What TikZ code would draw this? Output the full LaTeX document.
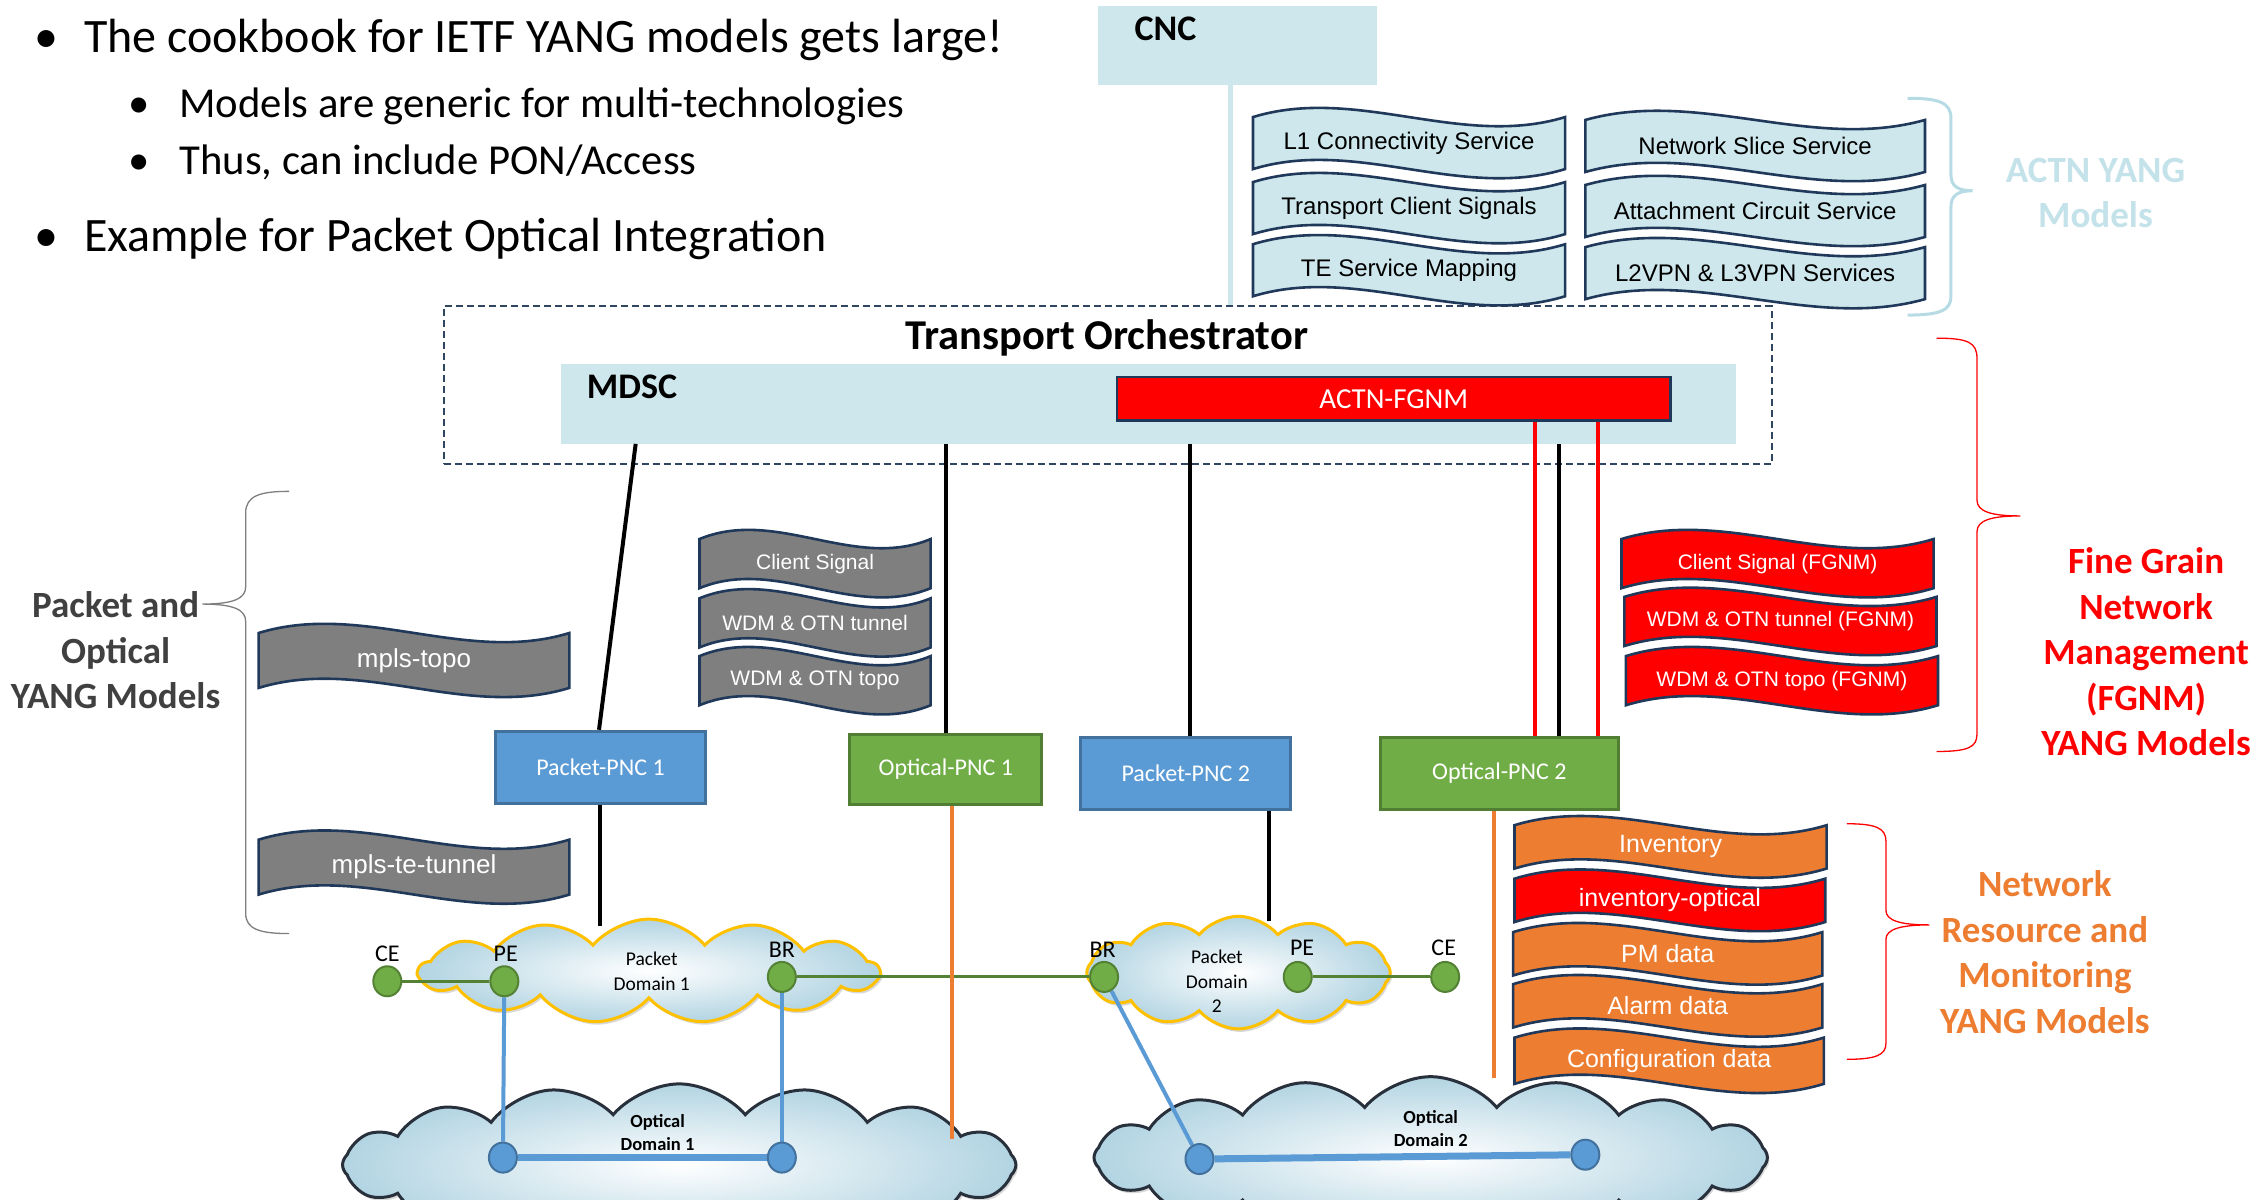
\documentclass[tikz,border=0pt]{standalone}
\usepackage{fontspec}
\setmainfont{Carlito}
\newfontfamily\arialf{Liberation Sans}
\usetikzlibrary{shapes.geometric,shapes.symbols,calc,fit,shadows}
\definecolor{lb}{RGB}{205,231,236}
\definecolor{navy}{RGB}{32,56,90}
\definecolor{dgrey}{RGB}{127,127,127}
\definecolor{org}{RGB}{237,125,49}
\definecolor{grn}{RGB}{112,173,71}
\definecolor{dgrn}{RGB}{80,126,50}
\definecolor{lgrn}{RGB}{84,130,53}
\definecolor{blu}{RGB}{91,155,213}
\definecolor{dblu}{RGB}{65,113,156}
\definecolor{cloudb}{RGB}{178,212,226}
\definecolor{ylw}{RGB}{255,192,0}
\definecolor{actntxt}{RGB}{196,226,233}
\definecolor{actnbrace}{RGB}{182,219,228}
\definecolor{dashc}{RGB}{47,69,96}
\definecolor{txtgrey}{RGB}{64,64,64}
\definecolor{cloudline}{RGB}{40,48,60}
\newcommand\fsz[2]{\fontsize{#1}{#2}\selectfont}
\pgfdeclarelayer{bg}
\pgfdeclarelayer{mid}
\pgfsetlayers{bg,mid,main}
% name, xl, xr, yc, half height, fill, text style, text
\newcommand\wavebanner[8]{%
  \path[draw=navy, line width=2.6pt, fill=#6]
    ({#2},{#4-#5}) .. controls ({#2+(#3-#2)/3},{#4-#5-22}) and ({#2+2*(#3-#2)/3},{#4-#5+22}) .. ({#3},{#4-#5})
    -- ({#3},{#4+#5}) .. controls ({#2+2*(#3-#2)/3},{#4+#5+22}) and ({#2+(#3-#2)/3},{#4+#5-22}) .. ({#2},{#4+#5}) -- cycle;
  \node[#7] (#1) at ({(#2+#3)/2},{#4}) {#8};
}
\tikzset{
  actnt/.style={font=\arialf\fsz{24}{28}, text=black, inner sep=0},
  greyt/.style={font=\arialf\fsz{21}{25}, text=white, inner sep=0},
  mplst/.style={font=\arialf\fsz{26}{30}, text=white, inner sep=0},
  redt/.style={font=\arialf\fsz{21}{25}, text=white, inner sep=0},
  orgt/.style={font=\arialf\fsz{25}{29}, text=white, inner sep=0},
  pncbox/.style={inner sep=0, line width=3pt},
  pnclab/.style={font=\fsz{24}{28}, text=white, inner sep=0},
  blk/.style={black, line width=4pt},
  redl/.style={red, line width=4pt},
  orgl/.style={org, line width=4pt},
  gline/.style={lgrn, line width=3pt},
  bline/.style={blu, line width=4pt},
  bthick/.style={blu, line width=7pt},
  gnode/.style={ellipse, fill=grn, draw=lgrn, line width=2pt, minimum width=28pt, minimum height=30pt, inner sep=0},
  bnode/.style={ellipse, fill=blu, draw=dblu, line width=2pt, minimum width=28pt, minimum height=30pt, inner sep=0},
  nlabel/.style={font=\fsz{24}{26}, inner sep=0},
  cloudsh/.style={cloud, cloud puffs=13, cloud puff arc=100, cloud ignores aspect, inner sep=0,
     shading=radial, inner color=white, outer color=cloudb, line width=3pt,
     drop shadow={shadow xshift=2pt, shadow yshift=-3pt, opacity=0.3}},
  ctext/.style={font=\fsz{19.5}{24.5}, align=center, inner sep=0},
  octext/.style={font=\bfseries\fsz{18.5}{23}, align=center, inner sep=0},
  bigl/.style={font=\bfseries\fsz{37}{45.5}, align=center, inner sep=0},
  bullett/.style={anchor=base west, inner sep=0},
  bulletdot/.style={anchor=base, inner sep=0},
}
\begin{document}
\begin{tikzpicture}[x=1.445pt, y=-1.445pt]
\useasboundingbox (0,0) rectangle (1568,830);
\begin{pgfonlayer}{bg}
\fill[white] (0,0) rectangle (1568,830);
\end{pgfonlayer}

% ---- bullets
\node[bulletdot, font=\fsz{48}{56}] (d1) at (32,36) {•};
\node[bullett, font=\fsz{48}{56}] (b1) at (58,36) {The cookbook for IETF YANG models gets large!};
\node[bulletdot, font=\fsz{42.7}{50}] (d2) at (96,81) {•};
\node[bullett, font=\fsz{42.7}{50}] (b2) at (124,81) {Models are generic for multi-technologies};
\node[bulletdot, font=\fsz{42.7}{50}] (d3) at (96,121) {•};
\node[bullett, font=\fsz{42.7}{50}] (b3) at (124,121) {Thus, can include PON/Access};
\node[bulletdot, font=\fsz{48}{56}] (d4) at (32,174) {•};
\node[bullett, font=\fsz{48}{56}] (b4) at (58,174) {Example for Packet Optical Integration};

% ---- CNC
\node[fit={(760,4) (953,59)}, inner sep=0, fill=lb] (cnc) {};
\node[font=\bfseries\fsz{36}{40}, anchor=west, inner sep=0] (cnct) at (785,20) {CNC};

% ---- Orchestrator
\node[fit={(307,212) (1226,321)}, inner sep=0, draw=dashc, line width=2.2pt, dash pattern=on 7pt off 4pt] (orch) {};
\node[font=\bfseries\fsz{42.5}{46}, inner sep=0] (orcht) at (766,234) {Transport Orchestrator};
\node[fit={(388,252) (1201,307)}, inner sep=0, fill=lb] (mdsc) {};
\node[font=\bfseries\fsz{36}{40}, anchor=west, inner sep=0] (mdsct) at (406,268) {MDSC};
\node[fit={(773,261) (1156,291)}, inner sep=0, fill=red, draw=navy, line width=2.6pt,
   label={[font=\fsz{29}{32}, text=white, inner sep=0]center:ACTN-FGNM}] (fgnm) {};

% CNC link
\coordinate (cncout) at ($(cnc.south)+(-5,0)$);
\draw[lb, line width=5pt] (cncout) -- (cncout |- orch.north);

% ---- ACTN banners
\wavebanner{l1}{867}{1083}{99}{18}{lb}{actnt}{L1 Connectivity Service}
\wavebanner{tcs}{867}{1083}{144}{18}{lb}{actnt}{Transport Client Signals}
\wavebanner{tes}{867}{1083}{187}{18}{lb}{actnt}{TE Service Mapping}
\wavebanner{nss}{1097}{1332}{101}{18}{lb}{actnt}{Network Slice Service}
\wavebanner{acs}{1097}{1332}{146}{18}{lb}{actnt}{Attachment Circuit Service}
\wavebanner{vpn}{1097}{1332}{189}{18}{lb}{actnt}{L2VPN \& L3VPN Services}

% ACTN brace + label
\draw[actnbrace, line width=3pt] (1320,68) .. controls (1342,68) and (1350,71) .. (1350,82) -- (1350,121) .. controls (1350,129) and (1355,132) .. (1365,132) .. controls (1355,132) and (1350,135) .. (1350,143) -- (1350,205) .. controls (1350,215) and (1342,218) .. (1320,218);
\node[bigl, text=actntxt] (actnl) at (1450,133.5) {ACTN YANG\\Models};

% ---- PNC boxes
\node[fit={(343,506) (488,556)}, pncbox, fill=blu, draw=dblu, label={[pnclab]center:Packet-PNC 1}] (ppnc1) {};
\node[fit={(588,508) (721,557)}, pncbox, fill=grn, draw=dgrn, label={[pnclab]center:Optical-PNC 1}] (opnc1) {};
\node[fit={(748,510) (893,560)}, pncbox, fill=blu, draw=dblu, label={[pnclab]center:Packet-PNC 2}] (ppnc2) {};
\node[fit={(955,510) (1120,560)}, pncbox, fill=grn, draw=dgrn, label={[pnclab]center:Optical-PNC 2}] (opnc2) {};

% MDSC -> PNC links
\coordinate (m1) at ($(mdsc.south west)+(52,0)$);
\draw[blk] (m1) -- ($(ppnc1.north)+(-1,0)$);
\draw[blk] (opnc1.north) -- (opnc1.north |- mdsc.south);
\coordinate (p2t) at ($(ppnc2.north)+(3,0)$);
\draw[blk] (p2t) -- (p2t |- mdsc.south);
\coordinate (o2ra) at ($(opnc2.north)+(24.5,0)$);
\coordinate (o2k) at ($(opnc2.north)+(41.5,0)$);
\coordinate (o2rb) at ($(opnc2.north)+(68.5,0)$);
\draw[redl] (o2ra) -- (o2ra |- fgnm.south);
\draw[blk] (o2k) -- (o2k |- mdsc.south);
\draw[redl] (o2rb) -- (o2rb |- fgnm.south);

% ---- grey banners
\wavebanner{mtopo}{179}{394}{457}{19}{dgrey}{mplst}{mpls-topo}
\wavebanner{mtun}{179}{394}{600}{19}{dgrey}{mplst}{mpls-te-tunnel}
\wavebanner{cs}{484}{644}{390}{17}{dgrey}{greyt}{Client Signal}
\wavebanner{wt}{484}{644}{431}{17}{dgrey}{greyt}{WDM \& OTN tunnel}
\wavebanner{wtp}{484}{644}{471}{17}{dgrey}{greyt}{WDM \& OTN topo}

% grey brace + label
\draw[dgrey, line width=1.3pt] (200,340) .. controls (180,340) and (170,343) .. (170,355) -- (170,406) .. controls (170,414) and (162,418) .. (140,418) .. controls (162,418) and (170,422) .. (170,430) -- (170,632) .. controls (170,643) and (180,646) .. (200,646);
\node[bigl, text=txtgrey] (pol) at (80,450) {Packet and\\Optical\\YANG Models};

% ---- red banners
\wavebanner{csf}{1122}{1338}{390}{17}{red}{redt}{Client Signal (FGNM)}
\wavebanner{wtf}{1124}{1340}{430}{17}{red}{redt}{WDM \& OTN tunnel (FGNM)}
\wavebanner{wtpf}{1125}{1341}{471}{17}{red}{redt}{WDM \& OTN topo (FGNM)}
\draw[red, line width=1.3pt] (1340,234) .. controls (1362,234) and (1368,237) .. (1368,248) -- (1368,346) .. controls (1368,354) and (1378,357) .. (1398,357) .. controls (1378,357) and (1368,360) .. (1368,368) -- (1368,508) .. controls (1368,517) and (1362,520) .. (1340,520);
\node[bigl, text=red] (fgl) at (1485,451) {Fine Grain\\Network\\Management\\(FGNM)\\YANG Models};

% ---- clouds
\begin{pgfonlayer}{bg}
\node[cloudsh, draw=ylw, minimum width=318*1.445pt, minimum height=72*1.445pt] (pd1) at (449,672) {};
\node[cloudsh, cloud puffs=12, draw=ylw, minimum width=210*1.445pt, minimum height=78*1.445pt] (pd2) at (857,673) {};
\node[cloudsh, cloud puffs=16, draw=cloudline, minimum width=466*1.445pt, minimum height=112*1.445pt] (od1) at (470,806) {};
\node[cloudsh, cloud puffs=16, draw=cloudline, minimum width=466*1.445pt, minimum height=112*1.445pt] (od2) at (990,801) {};
\end{pgfonlayer}
\node[ctext] (pd1t) at (451,672) {Packet\\Domain 1};
\node[ctext] (pd2t) at (842,679) {Packet\\Domain\\2};
\node[octext] (od1t) at (455,784) {Optical\\Domain 1};
\node[octext] (od2t) at (990,781) {Optical\\Domain 2};

% PNC -> domain links
\coordinate (pd1top) at (414,641);
\draw[blk] (ppnc1.south) -- (ppnc1.south |- pd1top);
\coordinate (o1s) at ($(opnc1.south)+(4,0)$);
\coordinate (od1top) at (659,788);
\draw[orgl] (o1s) -- (o1s |- od1top);
\coordinate (p2s) at ($(ppnc2.south)+(57.5,0)$);
\coordinate (pd2top) at (878,637);
\draw[blk] (p2s) -- (p2s |- pd2top);
\coordinate (o2s) at ($(opnc2.south)+(-3.5,0)$);
\coordinate (od2top) at (1034,746);
\draw[orgl] (o2s) -- (o2s |- od2top);

% ---- orange banners
\wavebanner{inv}{1048}{1264}{586}{15}{org}{orgt}{Inventory}
\wavebanner{invo}{1048}{1263}{623}{15}{red}{orgt}{inventory-optical}
\wavebanner{pm}{1047}{1261}{660}{15}{org}{orgt}{PM data}
\wavebanner{alm}{1047}{1261}{696}{15}{org}{orgt}{Alarm data}
\wavebanner{cfg}{1048}{1262}{734}{16}{org}{orgt}{Configuration data}
\draw[red, line width=1.3pt] (1278,570) .. controls (1298,570) and (1305,573) .. (1305,582) -- (1305,630) .. controls (1305,637) and (1315,640) .. (1335,640) .. controls (1315,640) and (1305,643) .. (1305,650) -- (1305,722) .. controls (1305,730) and (1298,733) .. (1278,733);
\node[bigl, text=org] (nrl) at (1415,659) {Network\\Resource and\\Monitoring\\YANG Models};

% ---- network nodes
\node[gnode] (ce1) at (268,679) {};
\node[gnode] (pe1) at (349,679) {};
\node[gnode] (br1) at (541,676) {};
\node[gnode] (br2) at (764,676) {};
\node[gnode] (pe2) at (898,676) {};
\node[gnode] (ce2) at (1000,676) {};
\node[bnode] (o1a) at (348,801) {};
\node[bnode] (o1b) at (541,801) {};
\node[bnode] (o2a) at (830,802) {};
\node[bnode] (o2b) at (1097,799) {};
\node[nlabel] (ce1l) at (268,660) {CE};
\node[nlabel] (pe1l) at (350,660) {PE};
\node[nlabel] (br1l) at (541,657) {BR};
\node[nlabel] (br2l) at (763,657) {BR};
\node[nlabel] (pe2l) at (901,656) {PE};
\node[nlabel] (ce2l) at (999,656) {CE};

\begin{pgfonlayer}{mid}
\draw[gline] (ce1) -- (pe1);
\draw[gline] (br1) -- (br2);
\draw[gline] (pe2) -- (ce2);
\draw[bline] (pe1) -- (o1a);
\draw[bline] (br1) -- (o1b);
\draw[bline] (br2) -- (o2a);
\draw[bthick] (o1a) -- (o1b);
\draw[bthick] (o2a) -- (o2b);
\end{pgfonlayer}
\end{tikzpicture}
\end{document}
